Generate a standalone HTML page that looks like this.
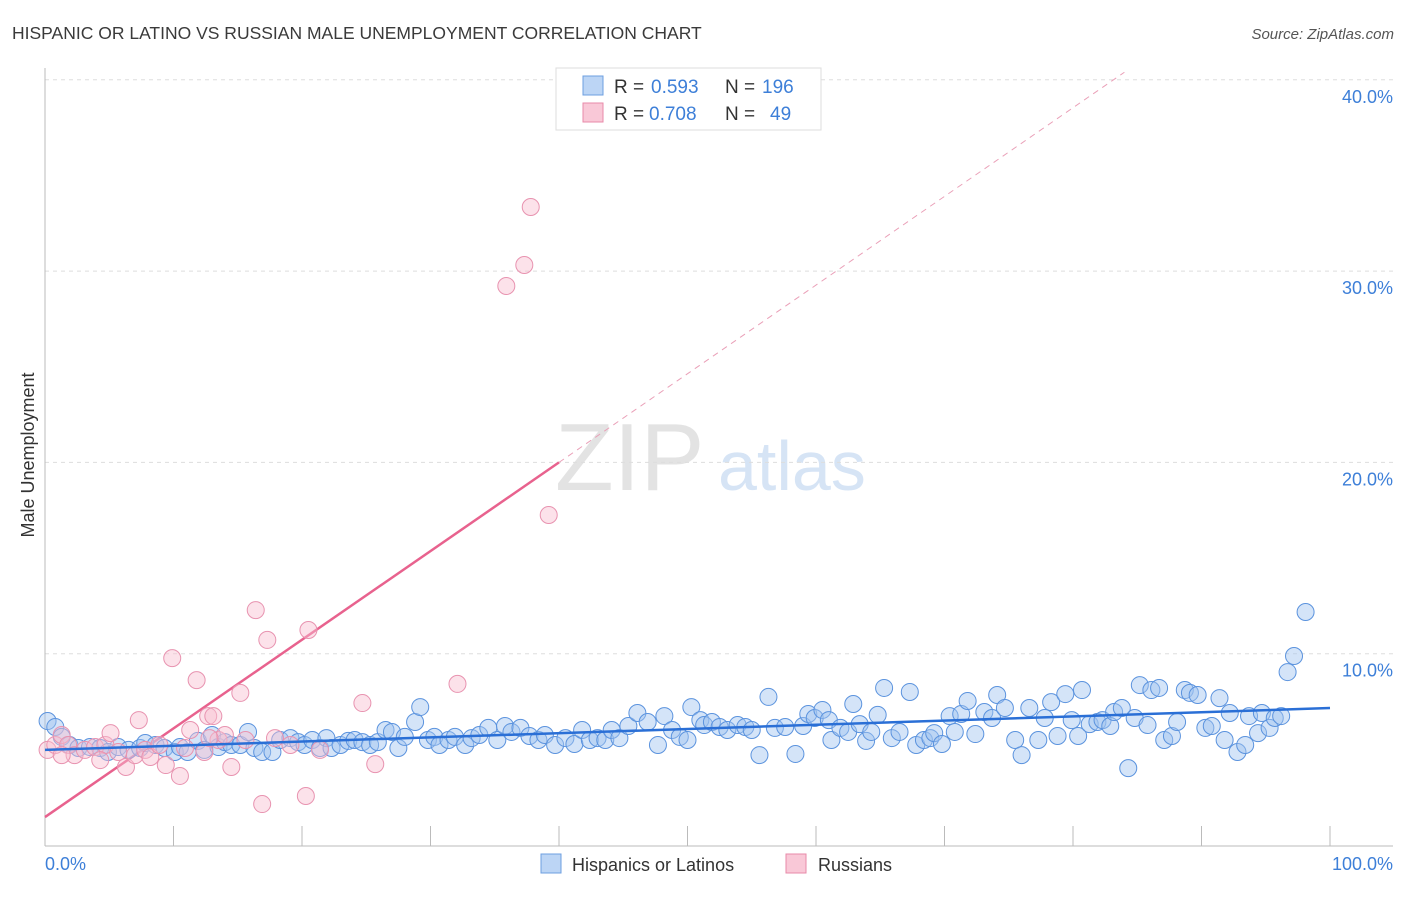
<!DOCTYPE html>
<html><head><meta charset="utf-8"><style>
body{margin:0;background:#fff;font-family:"Liberation Sans",sans-serif;}
svg text{font-family:"Liberation Sans",sans-serif;}
</style></head><body>
<svg id="chart" width="1406" height="892" xmlns="http://www.w3.org/2000/svg">
<text x="12" y="39" font-size="17.5" fill="#3a3a3a">HISPANIC OR LATINO VS RUSSIAN MALE UNEMPLOYMENT CORRELATION CHART</text>
<text x="1394" y="39" font-size="15" fill="#555" text-anchor="end" font-style="italic">Source: ZipAtlas.com</text>
<text x="555" y="490" font-size="96" fill="#d8d8d8" font-family="Liberation Serif" opacity="0.7">ZIP</text>
<text x="718" y="490" font-size="70" fill="#bcd3f0" opacity="0.6">atlas</text>
<g id="grid"></g>
<g id="axes"></g>
<g id="lines"></g>
<g id="pts"></g>
<text transform="translate(34,455) rotate(-90)" font-size="18" fill="#333" text-anchor="middle">Male Unemployment</text>
<text x="45" y="870" font-size="18" fill="#3d7fd8">0.0%</text>
<text x="1393" y="870" font-size="18" fill="#3d7fd8" text-anchor="end">100.0%</text>
<g>
<rect x="556" y="68" width="265" height="62" fill="#fff" stroke="#ddd"/>
<rect x="583" y="76" width="20" height="19" fill="#bcd5f5" stroke="#6d9fe0"/>
<rect x="583" y="103" width="20" height="19" fill="#f9c8d7" stroke="#e88aa8"/>
<text x="614" y="93" font-size="19" fill="#333">R = </text><text x="651" y="93" font-size="19" fill="#3d7fd8">0.593</text>
<text x="725" y="93" font-size="19" fill="#333">N = </text><text x="762" y="93" font-size="19" fill="#3d7fd8">196</text>
<text x="614" y="120" font-size="19" fill="#333">R = </text><text x="649" y="120" font-size="19" fill="#3d7fd8">0.708</text>
<text x="725" y="120" font-size="19" fill="#333">N = </text><text x="770" y="120" font-size="19" fill="#3d7fd8">49</text>
</g>
<g>
<rect x="541" y="854" width="20" height="19" fill="#bcd5f5" stroke="#6d9fe0"/>
<text x="572" y="871" font-size="18" fill="#333">Hispanics or Latinos</text>
<rect x="786" y="854" width="20" height="19" fill="#f9c8d7" stroke="#e88aa8"/>
<text x="818" y="871" font-size="18" fill="#333">Russians</text>
</g>
</svg>
<script>
const yTicks=[10,20,30,40];
const yTickLabels=["10.0%","20.0%","30.0%","40.0%"];
const xTicks=[10,20,30,40,50,60,70,80,90,100];
const blueX=[0.2,0.8,1.3,1.9,2.6,3.5,4.3,4.9,5.7,6.5,7.4,7.8,8.6,9.3,10.1,10.5,11.1,11.9,12.4,13.0,13.5,14.0,14.5,15.2,15.8,16.3,16.9,17.7,18.3,19.1,19.7,20.2,20.8,21.4,21.9,22.3,23.0,23.6,24.1,24.7,25.3,25.9,26.5,27.0,27.5,28.0,28.8,29.2,29.8,30.3,30.7,31.4,31.9,32.7,33.2,33.8,34.5,35.2,35.8,36.3,37.0,37.7,38.4,38.9,39.7,40.5,41.2,41.8,42.4,43.0,43.6,44.1,44.7,45.4,46.1,46.9,47.7,48.2,48.8,49.4,50.0,50.3,51.0,51.3,51.9,52.5,53.1,53.9,54.5,55.0,55.6,56.3,56.8,57.6,58.4,59.0,59.4,59.9,60.5,61.0,61.2,61.9,62.5,62.9,63.4,63.9,64.3,64.8,65.3,65.9,66.5,67.3,67.8,68.4,68.9,69.2,69.8,70.4,70.8,71.3,71.8,72.4,73.1,73.7,74.1,74.7,75.5,76.0,76.6,77.3,77.8,78.3,78.8,79.4,79.9,80.4,80.7,81.3,81.9,82.3,82.9,83.2,83.8,84.3,84.8,85.2,85.8,86.1,86.7,87.1,87.7,88.1,88.7,89.1,89.7,90.3,90.8,91.4,91.8,92.2,92.8,93.4,93.7,94.4,94.7,95.3,95.7,96.2,96.7,97.2,98.1];
const blueY=[6.48,6.17,5.65,5.23,5.07,5.12,5.07,4.86,5.12,4.97,5.07,5.33,5.23,5.07,4.86,5.12,4.86,5.44,4.97,5.75,5.12,5.38,5.23,5.23,5.91,5.07,4.86,4.86,5.49,5.59,5.38,5.23,5.49,5.07,5.59,5.07,5.23,5.44,5.49,5.38,5.23,5.38,6.01,5.91,5.07,5.65,6.43,7.21,5.49,5.65,5.23,5.49,5.65,5.23,5.59,5.75,6.12,5.49,6.22,5.91,6.12,5.70,5.49,5.75,5.23,5.59,5.28,6.01,5.49,5.59,5.49,6.01,5.59,6.22,6.90,6.43,5.23,6.74,6.01,5.65,5.49,7.21,6.53,6.27,6.43,6.17,6.01,6.27,6.17,6.01,4.70,7.74,6.12,6.17,4.76,6.22,6.85,6.64,7.06,6.53,5.49,6.12,5.91,7.37,6.32,5.44,5.91,6.80,8.21,5.59,5.91,8.00,5.23,5.49,5.59,5.85,5.28,6.74,5.91,6.85,7.53,5.80,6.95,6.64,7.84,7.16,5.49,4.70,7.16,5.49,6.64,7.47,5.70,7.89,6.53,5.70,8.10,6.32,6.43,6.53,6.22,6.95,7.16,4.02,6.64,8.36,6.27,8.10,8.21,5.49,5.70,6.43,8.10,7.95,7.84,6.12,6.22,7.68,5.49,6.90,4.86,5.23,6.74,5.85,6.90,6.12,6.64,6.74,9.04,9.88,12.18];
const pinkX=[0.2,0.8,1.3,1.8,2.3,3.1,3.9,4.7,5.1,5.7,6.3,7.0,7.3,7.8,8.2,8.9,9.4,9.9,10.5,10.9,11.3,11.8,12.4,12.7,13.1,13.5,14.0,14.5,15.2,15.6,16.4,16.9,17.3,17.9,19.1,20.3,20.5,21.4,24.7,25.7,32.1,35.9,37.3,37.8,39.2,1.3,4.3,12.8];
const pinkY=[4.97,5.23,5.75,5.23,4.70,4.97,5.12,5.23,5.85,4.86,4.08,4.70,6.53,4.97,4.60,5.23,4.18,9.77,3.61,5.07,6.01,8.62,4.86,6.74,6.74,5.49,5.75,4.08,7.95,5.49,12.28,2.14,10.72,5.59,5.23,2.56,11.24,4.97,7.42,4.23,8.42,29.22,30.32,33.35,17.25,4.70,4.44,5.59];
const blueFit=[4.97,7.16];
const pinkFit=[1.46,0.4635];
const X=v=>45+v*12.85, Y=v=>845-v*19.13;
const NS="http://www.w3.org/2000/svg";
function mk(t,a,p){const e=document.createElementNS(NS,t);for(const k in a)e.setAttribute(k,a[k]);p.appendChild(e);return e;}
const grid=document.getElementById('grid'),axes=document.getElementById('axes'),lines=document.getElementById('lines'),pts=document.getElementById('pts');
yTicks.forEach((t,i)=>{
 const l=mk('line',{x1:45,x2:1393,y1:Y(t),y2:Y(t),stroke:'#ddd','stroke-dasharray':'4,4'},grid);
 
 
 const tx=mk('text',{x:1393,y:Y(t)+23,'font-size':18,fill:'#3d7fd8','text-anchor':'end'},grid);
 tx.textContent=yTickLabels[i];
 
 
});
const ya=mk('line',{x1:45,x2:45,y1:68,y2:846,stroke:'#bbb'},axes);


const xa=mk('line',{x1:45,x2:1393,y1:846,y2:846,stroke:'#bbb'},axes);


xTicks.forEach(t=>{
 const l=mk('line',{x1:X(t),x2:X(t),y1:826,y2:846,stroke:'#bbb'},axes);
 
 
});
const pl=mk('line',{x1:X(0),y1:Y(pinkFit[0]),x2:X(40),y2:Y(pinkFit[0]+pinkFit[1]*40),stroke:'#e8628e','stroke-width':2.5},lines);


const pd=mk('line',{x1:X(40),y1:Y(pinkFit[0]+pinkFit[1]*40),x2:X(84),y2:Y(pinkFit[0]+pinkFit[1]*84),stroke:'#eaa0b8','stroke-width':1,'stroke-dasharray':'6,5'},lines);


blueX.forEach((x,i)=>{
 const c=mk('circle',{cx:X(x),cy:Y(blueY[i]),r:8.5,fill:'rgba(160,195,240,0.45)',stroke:'#5b93de','stroke-width':1},pts);
 
 
});
pinkX.forEach((x,i)=>{
 const c=mk('circle',{cx:X(x),cy:Y(pinkY[i]),r:8.5,fill:'rgba(248,190,208,0.45)',stroke:'#e893b0','stroke-width':1},pts);
 
 
});
const bl=mk('line',{x1:X(0),y1:Y(blueFit[0]),x2:X(100),y2:Y(blueFit[1]),stroke:'#2a6fd6','stroke-width':2.5},pts);


</script>
</body></html>
